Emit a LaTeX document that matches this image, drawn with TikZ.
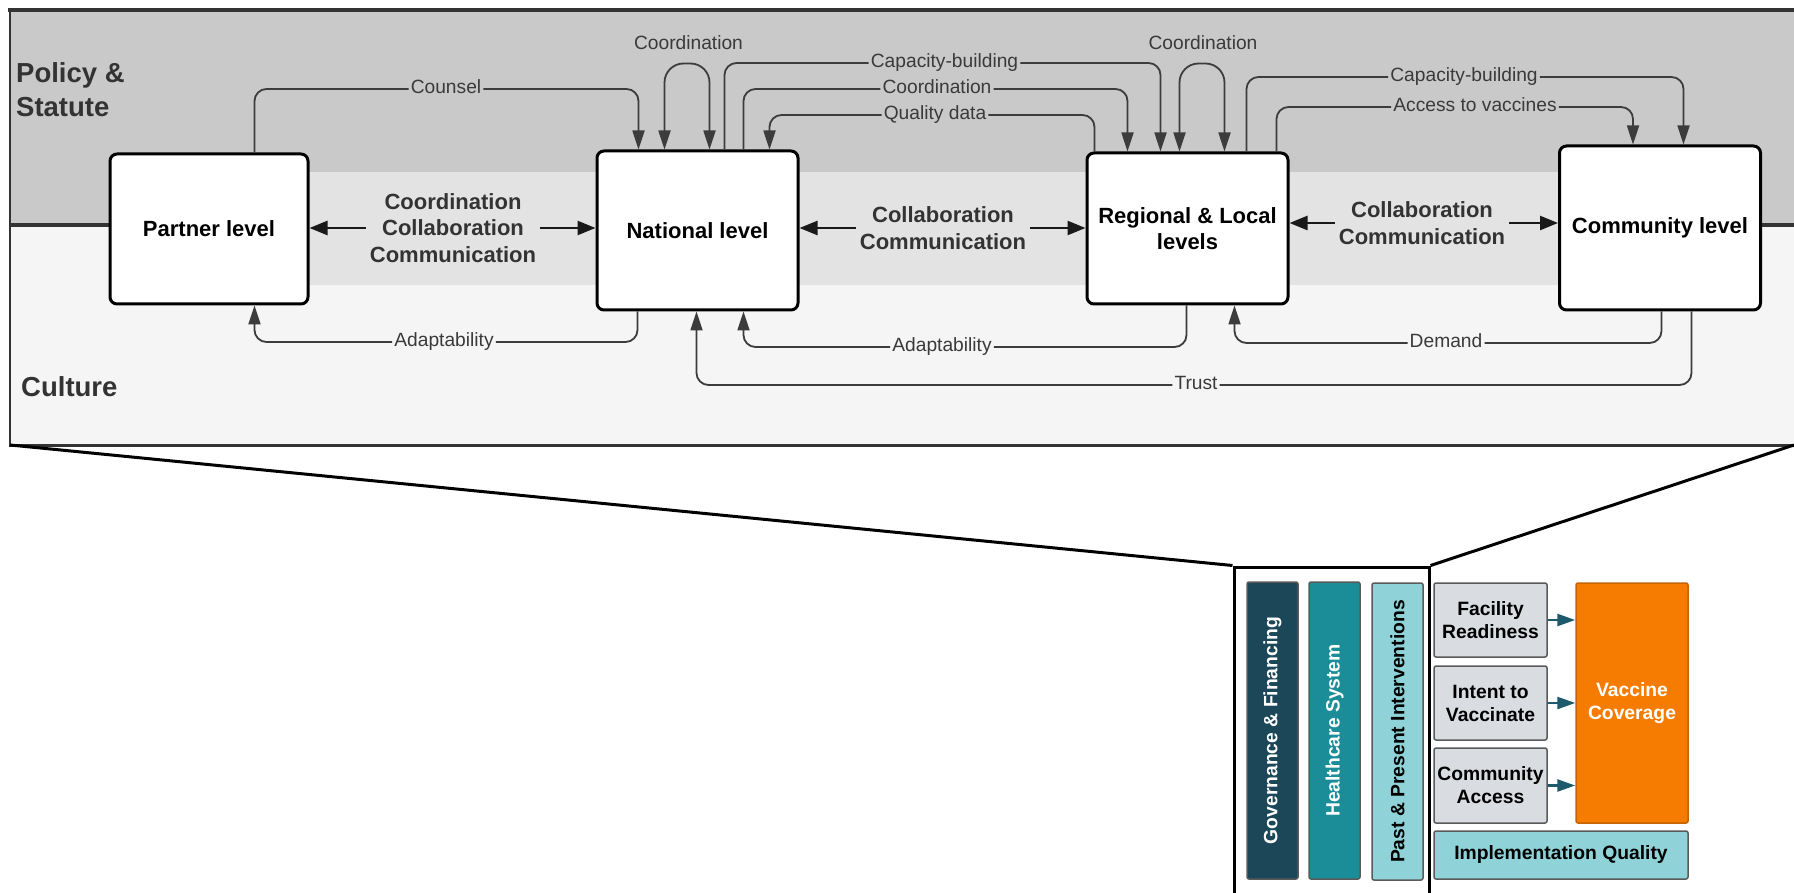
\documentclass[tikz,border=0pt]{standalone}
\usepackage{fontspec}
\setmainfont{Liberation Sans}
\usetikzlibrary{arrows.meta,calc}
\definecolor{topgray}{HTML}{C9C9C9}
\definecolor{bandgray}{HTML}{E3E3E3}
\definecolor{lowgray}{HTML}{F5F5F5}
\definecolor{framec}{HTML}{333333}
\definecolor{connc}{HTML}{3C3C3C}
\definecolor{lblc}{HTML}{3A3A3A}
\definecolor{bigc}{HTML}{333333}
\definecolor{govc}{HTML}{1B4758}
\definecolor{healthc}{HTML}{1A8D98}
\definecolor{lightteal}{HTML}{8FD3D9}
\definecolor{greybox}{HTML}{D9DCE0}
\definecolor{orangec}{HTML}{F57C00}
\definecolor{arrteal}{HTML}{1D5A6C}
\definecolor{bordc}{HTML}{5A5A5A}
\tikzset{
  ctip/.tip={Triangle[length=19pt,width=12pt]},
  btip/.tip={Triangle[length=18pt,width=14pt]},
  ttip/.tip={Triangle[length=18pt,width=12pt]},
  lvlbox/.style={draw=black, line width=3pt, fill=white, rounded corners=7pt,
    font=\fontsize{22}{26}\selectfont\bfseries, align=center, inner sep=0pt},
  conn/.style={draw=connc, line width=1.8pt, rounded corners=12pt, -ctip},
  lbl/.style={font=\fontsize{19.2}{22}\selectfont, text=lblc, inner sep=2pt,
    text height=13.7pt, text depth=3.8pt},
  biglbl/.style={font=\fontsize{22}{26.5}\selectfont\bfseries, text=bigc, align=center, inner sep=4pt},
  bigarr/.style={draw=black!90, line width=2.5pt, -btip},
  zone/.style={font=\fontsize{27.5}{34}\selectfont\bfseries, text=bigc, align=left, inner sep=0pt},
  bar/.style={draw=bordc, line width=1.5pt, rounded corners=2pt, inner sep=0pt,
    font=\fontsize{19.3}{23}\selectfont\bfseries, align=center},
  tarr/.style={draw=arrteal, line width=2.5pt, -ttip}
}
\begin{document}
\begin{tikzpicture}[x=1pt,y=-1pt]
\useasboundingbox (0,0) rectangle (1794,893);
% ---------- panel background ----------
\fill[topgray] (10,10) rectangle (1794,225);
\fill[lowgray] (10,225) rectangle (1794,445);
\draw[framec, line width=4pt] (10,225) -- (1794,225);
\fill[bandgray] (209,172) rectangle (1660,285);
\draw[framec, line width=4pt] (8,10) -- (1794,10);
\draw[framec, line width=2pt] (10,10) -- (10,445);
\draw[framec, line width=3pt] (9,445) -- (1794,445);
\coordinate (pbl) at (10,445);
\coordinate (pbr) at (1794,445);
% zone labels
\node[zone, anchor=west] (policy) at (16,90) {Policy \&\\Statute};
\node[zone, anchor=west] (culture) at (21,387) {Culture};
% ---------- level boxes ----------
\node[lvlbox, minimum width=198, minimum height=150] (partner) at (209,229) {Partner level};
\node[lvlbox, minimum width=201, minimum height=159] (national) at (697.5,230.5) {National level};
\node[lvlbox, minimum width=201, minimum height=151] (regional) at (1187.5,228.5) {Regional \& Local\\levels};
\node[lvlbox, minimum width=201, minimum height=164] (community) at (1660,228) {Community level};
% ---------- horizontal relations ----------
\node[biglbl] (m1) at (453,228) {Coordination\\Collaboration\\Communication};
\node[biglbl] (m2) at (943,228) {Collaboration\\Communication};
\node[biglbl] (m3) at (1422,223) {Collaboration\\Communication};
\draw[bigarr] (m1.west) -- (m1.west -| partner.east);
\draw[bigarr] (m1.east) -- (m1.east -| national.west);
\draw[bigarr] (m2.west) -- (m2.west -| national.east);
\draw[bigarr] (m2.east) -- (m2.east -| regional.west);
\draw[bigarr] (m3.west) -- (m3.west -| regional.east);
\draw[bigarr] (m3.east) -- (m3.east -| community.west);
% ---------- labels on thin connectors ----------
\node[lbl] (lcounsel) at (446,89) {Counsel};
\node[lbl] (lcap1) at (944.5,63) {Capacity-building};
\node[lbl] (lcoord) at (937,89) {Coordination};
\node[lbl] (lqual) at (935,115) {Quality data};
\node[lbl] (lcap2) at (1464,77) {Capacity-building};
\node[lbl] (laccess) at (1475,107) {Access to vaccines};
\node[lbl] (ladapt1) at (444,342) {Adaptability};
\node[lbl] (ladapt2) at (942,347) {Adaptability};
\node[lbl] (ldemand) at (1446,343) {Demand};
\node[lbl] (ltrust) at (1196,385) {Trust};
\node[lbl] (lloop1) at (688.5,45) {Coordination};
\node[lbl] (lloop2) at (1203,45) {Coordination};
% ---------- thin connectors (top) ----------
\draw[conn] ($(partner.north west)+(146,0)$) |- (lcounsel) -| ($(national.north west)+(43,0)$);
\draw[conn, rounded corners=19pt, ctip-ctip] ($(national.north west)+(69,0)$) |- ($(national.north west)+(114,-86)$) -- ($(national.north west)+(114,0)$);
\draw[conn] ($(national.north west)+(129,0)$) |- (lcap1) -| ($(regional.north west)+(75,0)$);
\draw[conn] ($(national.north west)+(148,0)$) |- (lcoord) -| ($(regional.north west)+(42,0)$);
\draw[conn] ($(regional.north west)+(9,0)$) |- (lqual) -| ($(national.north west)+(174,0)$);
\draw[conn, rounded corners=19pt, ctip-ctip] ($(regional.north west)+(94,0)$) |- ($(regional.north west)+(139,-88)$) -- ($(regional.north west)+(139,0)$);
\draw[conn] ($(regional.north west)+(161,0)$) |- (lcap2) -| ($(community.north west)+(125.5,0)$);
\draw[conn] ($(regional.north west)+(191,0)$) |- (laccess) -| ($(community.north west)+(75,0)$);
% ---------- thin connectors (bottom) ----------
\draw[conn] ($(national.south west)+(42,0)$) |- (ladapt1) -| ($(partner.south west)+(146,0)$);
\draw[conn] ($(regional.south west)+(101,0)$) |- (ladapt2) -| ($(national.south west)+(148,0)$);
\draw[conn] ($(community.south west)+(103.5,0)$) |- (ldemand) -| ($(regional.south west)+(149,0)$);
\draw[conn] ($(community.south west)+(133.5,0)$) |- (ltrust) -| ($(national.south west)+(101,0)$);
% ---------- lower diagram ----------
\node[draw=black, line width=3pt, minimum width=195, minimum height=340, inner sep=0pt] (frame) at (1331.5,737) {};
\draw[black, line width=3pt] (pbl) -- (frame.north west);
\draw[black, line width=3pt] (pbr) -- (frame.north east);
\node[bar, fill=govc, text=white, minimum width=297, minimum height=51, rotate=90] (gov) at (1272.5,730.5) {Governance \& Financing};
\node[bar, fill=healthc, text=white, minimum width=297, minimum height=51, rotate=90] (health) at (1334.5,730.5) {Healthcare System};
\node[bar, fill=lightteal, text=black, minimum width=297, minimum height=51, rotate=90] (past) at (1397.5,731.5) {Past \& Present Interventions};
\node[bar, fill=greybox, minimum width=113, minimum height=74] (facility) at (1490.5,620) {Facility\\Readiness};
\node[bar, fill=greybox, minimum width=113, minimum height=74] (intent) at (1490.5,703) {Intent to\\Vaccinate};
\node[bar, fill=greybox, minimum width=113, minimum height=75] (commacc) at (1490.5,785.5) {Community\\Access};
\node[bar, draw=orangec!80!black, fill=orangec, text=white, minimum width=112, minimum height=240] (vaccine) at (1632,703) {Vaccine\\Coverage};
\node[bar, fill=lightteal, minimum width=254, minimum height=48] (impl) at (1561,855) {Implementation Quality};
\draw[tarr] (facility.east) -- (facility.east -| vaccine.west);
\draw[tarr] (intent.east) -- (intent.east -| vaccine.west);
\draw[tarr] (commacc.east) -- (commacc.east -| vaccine.west);
\end{tikzpicture}
\end{document}
